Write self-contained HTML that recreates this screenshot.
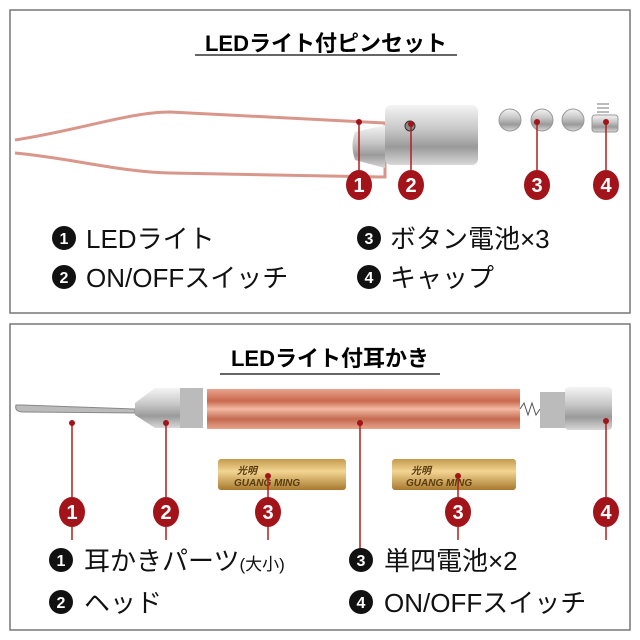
<!DOCTYPE html>
<html><head><meta charset="utf-8"><style>
body{margin:0;background:#fff;width:640px;height:640px;overflow:hidden}
svg{display:block}
text{font-family:"Liberation Sans","Noto Sans CJK JP",sans-serif}
</style></head><body>
<svg width="640" height="640" viewBox="0 0 640 640">
<defs>
<linearGradient id="sil" x1="0" y1="0" x2="0" y2="1"><stop offset="0" stop-color="#f4f4f4"/><stop offset=".4" stop-color="#c8c8c8"/><stop offset=".7" stop-color="#9a9a9a"/><stop offset="1" stop-color="#d8d8d8"/></linearGradient>
<linearGradient id="cu" x1="0" y1="0" x2="0" y2="1"><stop offset="0" stop-color="#e9a48d"/><stop offset=".3" stop-color="#c9694e"/><stop offset=".5" stop-color="#f3b9a4"/><stop offset=".75" stop-color="#c46a50"/><stop offset="1" stop-color="#e8a38b"/></linearGradient>
<linearGradient id="gold" x1="0" y1="0" x2="0" y2="1"><stop offset="0" stop-color="#c49a4d"/><stop offset=".4" stop-color="#f3d592"/><stop offset="1" stop-color="#a77a2f"/></linearGradient>
</defs>
<rect x="10" y="10" width="620" height="303" fill="#fff" stroke="#777" stroke-width="1.5"/>
<rect x="10" y="324" width="620" height="306" fill="#fff" stroke="#777" stroke-width="1.5"/>
<text x="326" y="51" font-size="22" font-weight="bold" text-anchor="middle">LEDライト付ピンセット</text>
<line x1="195" y1="55" x2="457" y2="55" stroke="#333" stroke-width="1.5"/>
<path d="M15,140 C80,130 130,112 170,112 L385,123 L385,177 L170,173 C120,172 70,158 15,153" fill="none" stroke="#d9968a" stroke-width="3"/>
<path d="M385,125 L355,132 Q350,145 355,160 L385,168Z" fill="url(#sil)"/>
<rect x="385" y="105" width="93" height="60" rx="6" fill="url(#sil)"/>
<circle cx="410" cy="126" r="5" fill="#888" stroke="#333"/>
<g fill="url(#sil)" stroke="#999"><circle cx="510" cy="120" r="11"/><circle cx="542" cy="120" r="11"/><circle cx="573" cy="120" r="11"/><rect x="592" y="115" width="26" height="17" rx="3"/></g>
<path d="M597,104 h12 M597,108 h12 M597,112 h12" stroke="#777"/>
<g stroke="#b21e1e" stroke-width="1.5"><line x1="359" y1="120" x2="359" y2="170"/><line x1="411" y1="124" x2="411" y2="170"/><line x1="537" y1="122" x2="537" y2="170"/><line x1="606" y1="122" x2="606" y2="170"/></g>
<g fill="#a3141a"><circle cx="359" cy="122" r="3"/><circle cx="411" cy="124" r="3"/><circle cx="537" cy="122" r="3"/><circle cx="606" cy="122" r="3"/>
<ellipse cx="359" cy="185" rx="13" ry="15"/><ellipse cx="411" cy="185" rx="13" ry="15"/><ellipse cx="537" cy="185" rx="13" ry="15"/><ellipse cx="606" cy="185" rx="13" ry="15"/></g>
<g fill="#fff" font-size="20" font-weight="bold" text-anchor="middle"><text x="359" y="192">1</text><text x="411" y="192">2</text><text x="537" y="192">3</text><text x="606" y="192">4</text></g>
<g fill="#111"><circle cx="64" cy="238" r="12"/><circle cx="64" cy="277" r="12"/><circle cx="369" cy="238" r="12"/><circle cx="369" cy="277" r="12"/></g>
<g fill="#fff" font-size="16" font-weight="bold" text-anchor="middle"><text x="64" y="244">1</text><text x="64" y="283">2</text><text x="369" y="244">3</text><text x="369" y="283">4</text></g>
<g font-size="26" fill="#111"><text x="86" y="248">LEDライト</text><text x="86" y="287">ON/OFFスイッチ</text><text x="390" y="248">ボタン電池×3</text><text x="390" y="287">キャップ</text></g>
<!-- bottom -->
<text x="330" y="366" font-size="22" font-weight="bold" text-anchor="middle">LEDライト付耳かき</text>
<line x1="220" y1="374" x2="440" y2="374" stroke="#333" stroke-width="1.5"/>
<path d="M16,405 Q14,412 24,412 L135,413 L135,409 L22,405Z" fill="#bbb" stroke="#888"/>
<path d="M135,403 L155,388 L200,388 L200,428 L155,428 L135,415Z" fill="url(#sil)"/>
<rect x="180" y="388" width="23" height="40" fill="#bbb"/>
<rect x="207" y="389" width="313" height="40" fill="url(#cu)"/>
<path d="M520,409 l4,-6 4,12 4,-12 4,12 4,-6" stroke="#555" fill="none"/>
<rect x="540" y="392" width="35" height="36" fill="#bbb"/>
<rect x="565" y="387" width="47" height="43" rx="4" fill="url(#sil)"/>
<rect x="218" y="459" width="128" height="31" rx="3" fill="url(#gold)"/>
<rect x="392" y="459" width="124" height="31" rx="3" fill="url(#gold)"/>
<g font-size="10" font-weight="bold" font-style="italic" fill="#5a3b10"><text x="234" y="486">GUANG MING</text><text x="406" y="486">GUANG MING</text><text x="237" y="474">光明</text><text x="411" y="474">光明</text></g>
<g stroke="#b21e1e" stroke-width="1.5"><line x1="72" y1="423" x2="72" y2="540"/><line x1="166" y1="423" x2="166" y2="540"/><line x1="268" y1="476" x2="268" y2="540"/><line x1="360" y1="423" x2="360" y2="553"/><line x1="458" y1="476" x2="458" y2="540"/><line x1="606" y1="421" x2="606" y2="540"/></g>
<g fill="#a3141a"><circle cx="72" cy="423" r="3"/><circle cx="166" cy="423" r="3"/><circle cx="268" cy="476" r="3"/><circle cx="360" cy="423" r="3"/><circle cx="458" cy="476" r="3"/><circle cx="606" cy="421" r="3"/>
<ellipse cx="72" cy="512" rx="13" ry="15"/><ellipse cx="166" cy="512" rx="13" ry="15"/><ellipse cx="268" cy="512" rx="13" ry="15"/><ellipse cx="458" cy="512" rx="13" ry="15"/><ellipse cx="606" cy="512" rx="13" ry="15"/></g>
<g fill="#fff" font-size="20" font-weight="bold" text-anchor="middle"><text x="72" y="519">1</text><text x="166" y="519">2</text><text x="268" y="519">3</text><text x="458" y="519">3</text><text x="606" y="519">4</text></g>
<g fill="#111"><circle cx="61" cy="560" r="12"/><circle cx="61" cy="602" r="12"/><circle cx="361" cy="560" r="12"/><circle cx="361" cy="602" r="12"/></g>
<g fill="#fff" font-size="16" font-weight="bold" text-anchor="middle"><text x="61" y="566">1</text><text x="61" y="608">2</text><text x="361" y="566">3</text><text x="361" y="608">4</text></g>
<g font-size="26" fill="#111"><text x="84" y="570">耳かきパーツ<tspan font-size="17">(大小)</tspan></text><text x="84" y="612">ヘッド</text><text x="384" y="570">単四電池×2</text><text x="384" y="612">ON/OFFスイッチ</text></g>
</svg>
</body></html>
